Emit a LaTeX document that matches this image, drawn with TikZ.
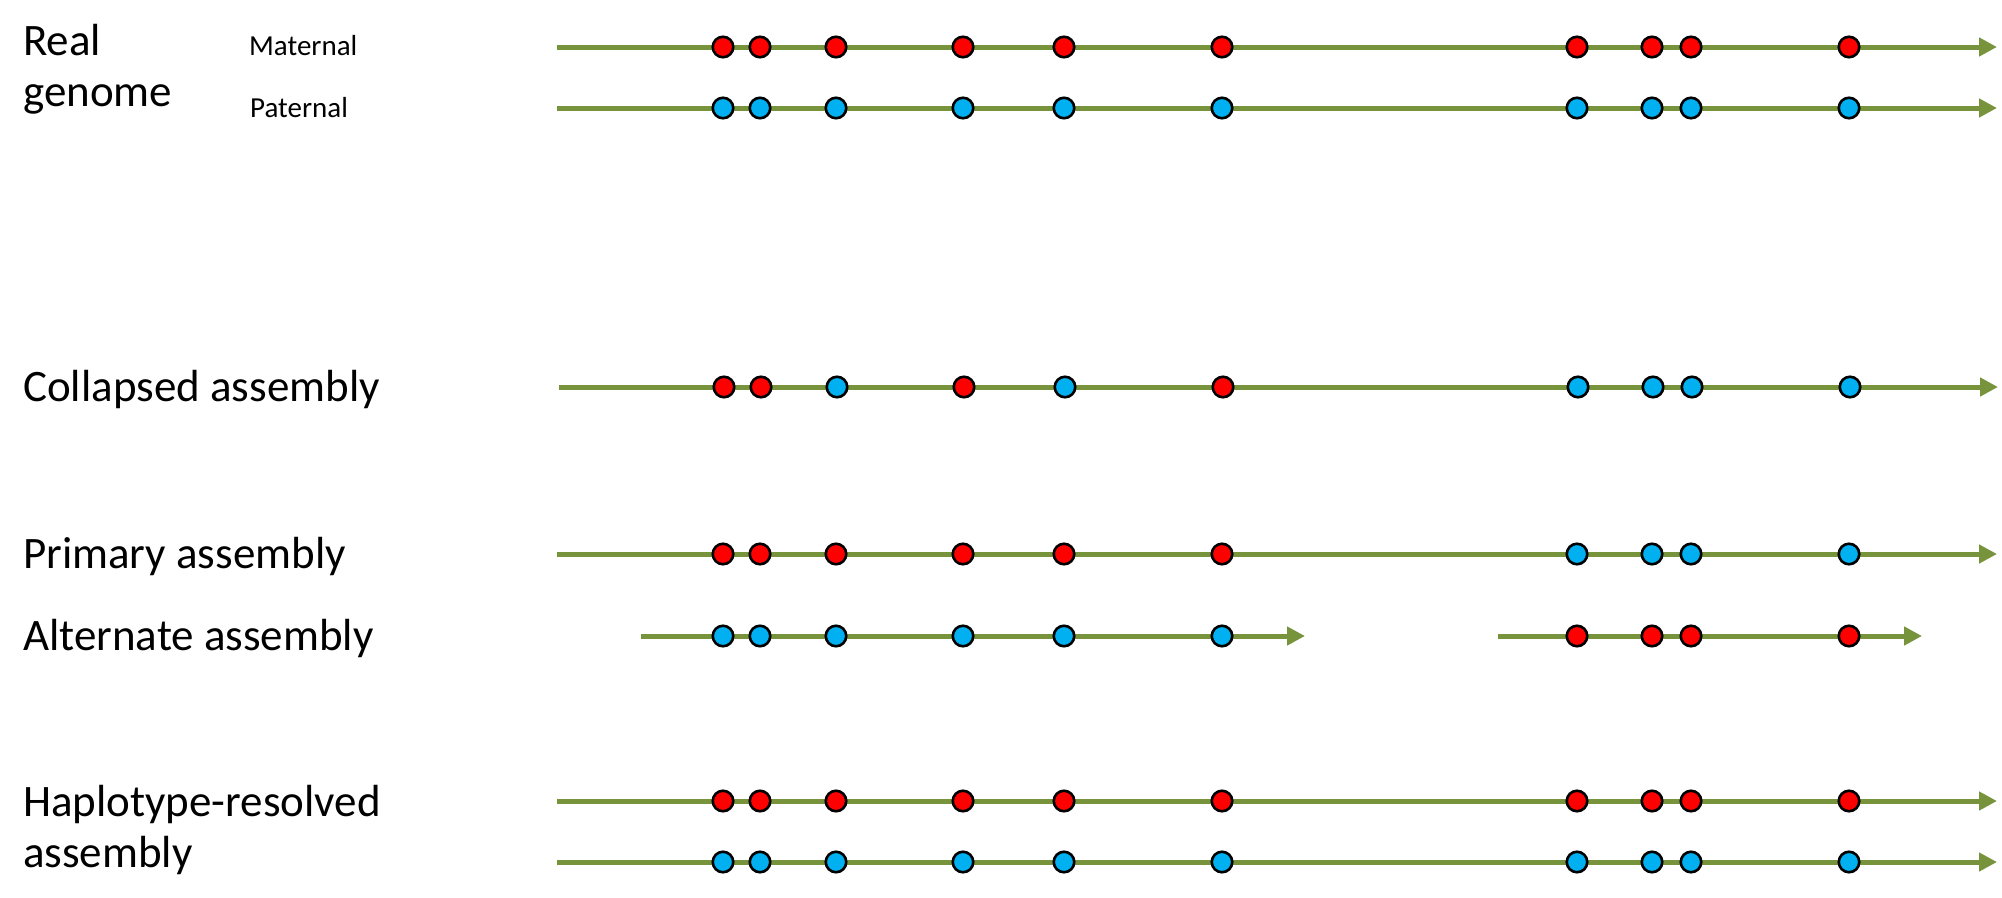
\documentclass[tikz,border=0pt]{standalone}
\usepackage{fontspec}
\setmainfont{Carlito}
\usetikzlibrary{arrows.meta}

\definecolor{strand}{HTML}{77933C}
\definecolor{mat}{HTML}{FF0000}
\definecolor{pat}{HTML}{00B0F0}

\tikzset{
  strandline/.style={strand, line width=5pt, -{Triangle[length=18pt,width=18pt]}},
  snp/.style={circle, draw=black, line width=2.6pt, minimum size=20.5pt, inner sep=0pt},
  bigtext/.style={font=\fontsize{45}{51}\selectfont, inner sep=0pt, align=left, anchor=base west},
  smalltext/.style={font=\fontsize{29}{31}\selectfont, inner sep=0pt, anchor=base west}
}

\def\snpx{723,760,836,963,1064,1222,1577,1652,1691,1849}

\begin{document}
\begin{tikzpicture}[x=1pt,y=-1pt]
\useasboundingbox (0,0) rectangle (2002,897);

% labels (base = last line)
\node (real) [bigtext] at (23,106) {Real\\genome};
\node (matlab) [smalltext] at (249,55) {Maternal};
\node (patlab) [smalltext] at (250,117) {Paternal};
\node (coll) [bigtext] at (23,401) {Collapsed assembly};
\node (prim) [bigtext] at (23,568) {Primary assembly};
\node (alt) [bigtext] at (23,650) {Alternate assembly};
\node (hap) [bigtext] at (23,867) {Haplotype-resolved\\assembly};

% strands
\coordinate (matL) at (557,47);   \coordinate (matR) at (1997,47);
\coordinate (patL) at (557,108);  \coordinate (patR) at (1997,108);
\coordinate (colL) at (559,387);  \coordinate (colR) at (1998,387);
\coordinate (priL) at (557,554);  \coordinate (priR) at (1997,554);
\coordinate (altLa) at (641,636); \coordinate (altRa) at (1305,636);
\coordinate (altLb) at (1498,636); \coordinate (altRb) at (1922,636);
\coordinate (hmaL) at (557,801);  \coordinate (hmaR) at (1997,801);
\coordinate (hpaL) at (557,862);  \coordinate (hpaR) at (1997,862);

\draw[strandline] (matL) -- (matR);
\draw[strandline] (patL) -- (patR);
\draw[strandline] (colL) -- (colR);
\draw[strandline] (priL) -- (priR);
\draw[strandline] (altLa) -- (altRa);
\draw[strandline] (altLb) -- (altRb);
\draw[strandline] (hmaL) -- (hmaR);
\draw[strandline] (hpaL) -- (hpaR);

% variants
\foreach \x [count=\i] in \snpx {
  \node (mat\i) [snp, fill=mat] at (\x,47) {};
  \node (pat\i) [snp, fill=pat] at (\x,108) {};
  \node (hma\i) [snp, fill=mat] at (\x,801) {};
  \node (hpa\i) [snp, fill=pat] at (\x,862) {};
}
\foreach \x/\c [count=\i] in {724/mat,761/mat,837/pat,964/mat,1065/pat,1223/mat,1578/pat,1653/pat,1692/pat,1850/pat}
  \node (col\i) [snp, fill=\c] at (\x,387) {};
\foreach \x/\c [count=\i] in {723/mat,760/mat,836/mat,963/mat,1064/mat,1222/mat,1577/pat,1652/pat,1691/pat,1849/pat}
  \node (pri\i) [snp, fill=\c] at (\x,554) {};
\foreach \x/\c [count=\i] in {723/pat,760/pat,836/pat,963/pat,1064/pat,1222/pat,1577/mat,1652/mat,1691/mat,1849/mat}
  \node (alt\i) [snp, fill=\c] at (\x,636) {};
\end{tikzpicture}
\end{document}
